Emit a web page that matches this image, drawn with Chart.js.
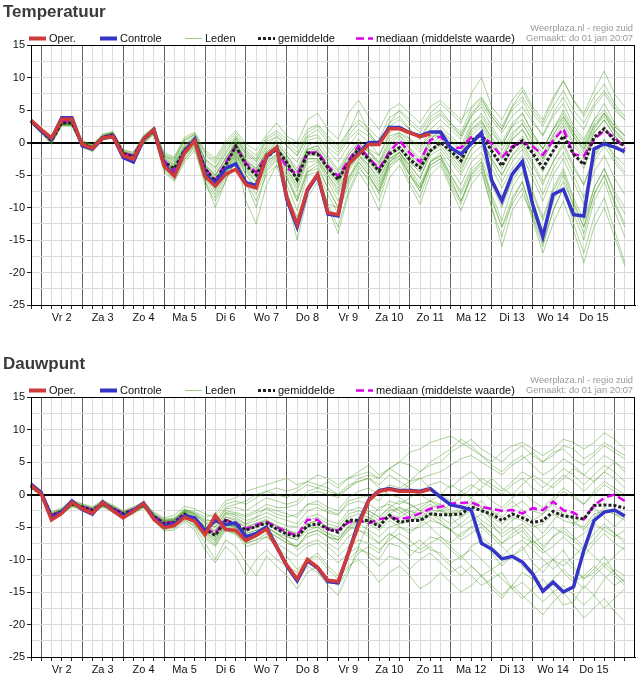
<!DOCTYPE html>
<html>
<head>
<meta charset="utf-8">
<script src="https://cdn.jsdelivr.net/npm/chart.js@4.4.1/dist/chart.umd.min.js"></script>
<style>
    html, body { margin: 0; padding: 0; overflow: hidden; background: #fff; }
    .panel { position: relative; width: 636px; height: 352px; }
</style>
</head>
<body>
<div class="panel"><canvas id="temperatuur"></canvas></div>
<div class="panel"><canvas id="dauwpunt"></canvas></div>
<script>
// Dag-labels onder de x-as (midden van elke dag, 6-uurs stappen vanaf 1 jan 18:00)
const dagLabels = ['Vr 2', 'Za 3', 'Zo 4', 'Ma 5', 'Di 6', 'Wo 7', 'Do 8', 'Vr 9', 'Za 10', 'Zo 11', 'Ma 12', 'Di 13', 'Wo 14', 'Do 15'];
const aantalStappen = 60;
const yTicks = [15, 10, 5, 0, -5, -10, -15, -20, -25];

// ---- Temperatuur ----
const tempOper = [3.4, 2.0, 0.7, 3.6, 3.6, -0.3, -0.9, 0.7, 0.9, -2.0, -2.6, 0.5, 2.0, -3.6, -5.2, -1.6, 0.3, -5.2, -6.7, -4.9, -4.1, -6.5, -7.0, -2.0, -0.8, -8.5, -12.6, -7.2, -4.9, -10.8, -11.1, -3.3, -1.8, -0.3, -0.3, 2.1, 2.1, 1.5, 0.9, 1.3];
const tempControle = [3.3, 1.8, 0.5, 3.8, 3.8, -0.5, -1.0, 0.7, 1.0, -2.3, -3.0, 0.5, 2.0, -3.4, -5.0, -1.4, 0.5, -4.8, -6.3, -4.0, -3.3, -6.2, -6.6, -2.2, -0.8, -8.8, -13.0, -7.4, -5.0, -11.0, -11.3, -3.3, -1.6, 0.0, 0.0, 2.3, 2.3, 1.5, 1.0, 1.6, 1.6, -0.8, -1.8, -0.2, 1.5, -5.8, -9.0, -4.9, -2.9, -9.5, -14.5, -8.0, -7.2, -11.1, -11.3, -1.0, -0.2, -0.7, -1.4, 1.0];
const tempGemiddelde = [3.3, 1.8, 0.3, 3.0, 3.0, -0.2, -0.8, 0.8, 1.2, -1.7, -2.2, 0.5, 1.8, -3.0, -4.0, -1.2, 0.3, -4.0, -6.0, -3.5, -0.6, -3.5, -5.0, -2.3, -1.0, -3.1, -5.7, -1.6, -1.8, -3.9, -5.7, -3.1, -1.0, -2.6, -4.4, -1.8, -0.8, -2.6, -3.9, -1.3, 0.0, -1.3, -2.8, 0.3, 1.3, -1.3, -3.6, -0.8, 0.3, -1.6, -3.9, -1.3, 1.0, -1.8, -3.4, 0.8, 2.1, 0.3, -0.5, 1.8];
const tempMediaan = [3.4, 1.9, 0.5, 3.3, 3.2, -0.2, -0.8, 0.8, 1.3, -1.6, -2.0, 0.6, 1.9, -2.8, -4.4, -1.2, 0.4, -4.0, -5.8, -3.2, -0.5, -3.2, -4.6, -2.0, -1.0, -3.9, -4.9, -1.6, -1.5, -3.6, -5.2, -2.8, -0.5, -2.4, -4.0, -1.5, 0.3, -1.6, -3.0, 0.4, 0.9, -0.8, -0.8, 0.8, 1.0, -0.2, -2.3, -0.6, 0.0, -0.6, -1.9, 0.3, 2.1, -1.8, -2.1, 0.5, 1.8, 0.8, -1.0, 2.3];
const tempLeden = [
    [3.6, 2.2, 0.8, 3.4, 3.3, 0.2, -0.4, 1.2, 1.6, -1.2, -1.6, 1.0, 2.3, -2.0, -2.8, 0.2, 1.2, -2.5, -3.8, -1.0, 0.6, -1.5, -2.8, 0.2, 0.8, -0.5, -2.0, 0.8, 1.2, -0.8, -2.0, 0.5, 2.0, 1.0, -0.5, 2.5, 3.5, 2.0, 0.5, 3.0, 4.2, 2.5, 1.0, 4.5, 6.0, 3.5, 1.5, 4.0, 5.5, 3.0, 1.2, 4.5, 7.0, 4.0, 2.0, 5.5, 7.5, 5.0, 3.5, 6.5],
    [3.0, 1.5, -0.2, 2.6, 2.6, -0.6, -1.3, 0.3, 0.8, -2.3, -2.9, -0.1, 1.3, -4.2, -5.8, -2.6, -0.8, -6.5, -9.0, -6.0, -2.5, -6.2, -10.0, -4.5, -2.8, -6.5, -10.5, -5.0, -4.5, -8.0, -11.0, -6.5, -3.5, -6.0, -9.0, -4.0, -2.5, -6.0, -8.5, -4.0, -3.0, -6.5, -9.5, -5.0, -3.0, -8.0, -12.0, -7.0, -4.5, -9.0, -13.5, -8.5, -5.0, -10.0, -14.0, -8.0, -5.0, -9.5, -13.0, -7.5],
    [3.4, 1.9, 0.5, 3.1, 3.2, -0.1, -0.6, 1.0, 1.4, -1.5, -2.0, 0.7, 2.0, -2.6, -3.4, -0.6, 0.8, -3.2, -5.0, -2.4, 0.2, -2.5, -4.0, -1.5, -0.2, -2.0, -4.0, -0.5, 0.2, -2.0, -4.2, -1.5, 0.5, -1.2, -3.2, 0.0, 1.2, -0.8, -2.5, 0.5, 1.8, 0.2, -1.5, 2.0, 3.2, 0.8, -1.2, 1.5, 2.8, 0.5, -1.8, 1.2, 3.5, 0.8, -1.0, 2.5, 4.0, 1.8, 0.5, 3.5],
    [3.1, 1.6, 0.0, 2.8, 2.7, -0.5, -1.1, 0.5, 0.9, -2.1, -2.7, 0.2, 1.6, -3.6, -4.8, -1.8, -0.2, -4.8, -7.2, -4.2, -1.5, -4.5, -6.2, -3.0, -1.8, -4.5, -7.5, -3.0, -2.8, -5.5, -8.0, -4.5, -2.0, -4.0, -6.5, -3.0, -2.0, -5.0, -7.5, -3.5, -2.5, -6.0, -9.0, -5.0, -3.5, -9.0, -13.0, -8.5, -6.0, -11.0, -15.5, -10.5, -7.0, -12.5, -17.0, -11.5, -8.5, -13.5, -18.5, -12.0],
    [3.5, 2.0, 0.6, 3.3, 3.4, 0.1, -0.5, 1.1, 1.5, -1.3, -1.8, 0.9, 2.2, -1.8, -2.4, 0.5, 1.4, -1.5, -2.8, -0.2, 1.4, -0.8, -2.0, 0.8, 1.8, 0.5, -0.8, 2.0, 2.8, 1.0, -0.5, 1.8, 3.5, 2.2, 0.5, 3.8, 4.8, 3.0, 1.5, 4.0, 5.0, 3.0, 1.5, 5.2, 6.8, 4.0, 2.0, 5.0, 6.5, 3.5, 1.0, 4.0, 6.0, 2.5, 0.5, 3.5, 5.0, 2.5, 1.0, 4.0],
    [3.2, 1.7, 0.2, 2.9, 2.9, -0.3, -1.0, 0.6, 1.0, -2.0, -2.5, 0.3, 1.7, -3.8, -5.2, -2.0, -0.5, -5.5, -8.0, -5.0, -2.0, -5.8, -8.0, -4.2, -2.5, -7.5, -12.5, -7.0, -5.0, -9.5, -13.0, -7.5, -4.0, -5.5, -7.5, -3.0, -1.5, -3.5, -5.5, -1.5, -0.5, -2.5, -4.5, -1.0, 0.5, -2.5, -5.0, -2.0, -0.5, -3.5, -6.5, -3.0, -0.5, -4.0, -6.5, -2.0, 0.5, -2.0, -3.5, -0.5],
    [3.3, 1.8, 0.4, 3.0, 3.1, -0.2, -0.8, 0.9, 1.3, -1.8, -2.3, 0.5, 1.9, -3.0, -4.2, -1.2, 0.4, -4.2, -6.5, -3.8, -0.8, -3.8, -5.5, -2.5, -1.0, -3.5, -6.0, -2.0, -2.0, -4.5, -6.5, -3.5, -1.5, -3.0, -5.0, -2.0, -1.0, -3.0, -4.5, -1.5, 0.5, -1.0, -2.5, 1.0, 2.5, -0.5, -2.5, 0.5, 2.0, -0.5, -2.5, 0.0, 2.5, -0.5, -2.5, 1.5, 3.5, 1.0, -0.5, 2.5],
    [3.5, 2.1, 0.7, 3.2, 3.3, 0.0, -0.6, 1.0, 1.4, -1.4, -1.9, 0.8, 2.1, -2.2, -3.0, -0.3, 1.0, -2.8, -4.5, -1.8, 0.5, -2.0, -3.5, -0.8, 0.4, -1.5, -3.0, 0.3, 0.8, -1.2, -3.0, -0.5, 1.5, 0.0, -2.0, 1.5, 2.5, 0.5, -1.0, 2.0, 3.5, 2.0, 0.5, 4.0, 6.5, 4.0, 2.0, 5.5, 8.0, 5.0, 3.0, 6.5, 9.5, 6.5, 4.5, 8.0, 11.0, 7.5, 5.5, 11.0],
    [3.0, 1.4, -0.3, 2.7, 2.5, -0.7, -1.4, 0.4, 0.7, -2.5, -3.2, -0.2, 1.2, -4.5, -6.0, -3.0, -1.2, -6.0, -8.5, -5.5, -2.8, -6.0, -9.0, -5.0, -3.5, -5.5, -9.0, -4.5, -4.0, -7.0, -10.0, -6.0, -3.0, -5.0, -8.0, -3.5, -2.0, -5.0, -7.5, -3.0, -1.5, -4.0, -6.5, -3.0, -1.5, -5.5, -8.5, -5.0, -3.0, -7.5, -11.5, -7.0, -4.0, -8.5, -12.0, -7.0, -4.0, -8.0, -11.0, -6.0],
    [3.4, 1.9, 0.4, 3.0, 3.0, -0.3, -0.9, 0.7, 1.1, -1.7, -2.1, 0.6, 1.8, -2.8, -3.6, -0.8, 0.6, -3.6, -5.5, -3.0, -0.2, -3.0, -4.5, -1.8, -0.5, -2.8, -5.0, -1.2, -1.0, -3.5, -5.5, -2.5, -0.5, -2.0, -4.0, -1.0, 0.5, -1.5, -3.5, 0.0, 1.5, -0.5, -2.0, 2.0, 3.5, 0.5, -2.0, 1.0, 3.0, 0.0, -2.5, 1.0, 4.0, 1.0, -1.5, 2.0, 4.5, 1.5, 0.0, 3.0],
    [3.2, 1.6, 0.1, 2.9, 2.8, -0.4, -1.1, 0.6, 1.0, -1.9, -2.5, 0.3, 1.6, -3.4, -4.5, -1.5, 0.0, -4.5, -7.0, -4.5, -1.5, -5.0, -7.0, -3.5, -2.0, -5.0, -8.5, -4.0, -3.0, -6.0, -9.0, -5.5, -2.5, -4.5, -7.0, -3.0, -1.5, -4.0, -6.5, -3.0, -2.0, -5.0, -8.0, -4.5, -3.0, -8.5, -13.0, -9.5, -7.0, -12.0, -17.0, -12.5, -9.0, -13.5, -18.5, -13.0, -10.0, -14.5, -19.0, -13.5],
    [3.6, 2.1, 0.6, 3.3, 3.4, 0.1, -0.5, 1.1, 1.5, -1.4, -1.9, 0.9, 2.2, -2.0, -2.6, 0.4, 1.2, -1.8, -3.2, -0.6, 1.0, -1.2, -2.5, 0.5, 1.4, 0.0, -1.5, 1.5, 2.5, 0.5, -1.0, 1.5, 5.0, 1.5, -0.5, 3.0, 5.0, 3.5, 2.0, 4.5, 6.0, 4.5, 3.0, 7.5, 10.0, 5.5, 3.5, 6.5, 8.5, 5.5, 3.5, 7.0, 9.5, 6.5, 4.0, 7.0, 9.0, 6.0, 4.0, 7.0],
    [3.3, 1.7, 0.3, 3.0, 2.9, -0.2, -0.8, 0.8, 1.2, -1.6, -2.3, 0.4, 1.8, -3.2, -4.4, -1.4, 0.2, -3.8, -5.8, -3.2, -0.5, -3.4, -5.0, -2.2, -0.8, -3.0, -5.5, -1.5, -1.5, -4.0, -6.0, -3.0, -0.8, -2.5, -4.5, -1.5, -0.5, -2.5, -4.0, -1.0, 0.0, -2.0, -4.0, -1.0, 0.5, -2.5, -5.0, -2.0, 0.0, -3.0, -6.0, -3.0, 0.0, -3.5, -6.5, -2.5, 0.5, -2.5, -4.5, -1.0],
    [3.1, 1.5, 0.1, 2.8, 2.8, -0.4, -1.0, 0.6, 1.0, -2.0, -2.6, 0.2, 1.5, -3.6, -4.6, -1.6, 0.0, -4.6, -6.8, -4.0, -1.2, -4.2, -6.0, -3.2, -1.6, -4.0, -7.0, -2.5, -2.5, -5.0, -7.5, -4.0, -1.8, -3.5, -6.0, -2.5, -1.5, -4.5, -7.0, -3.0, -2.0, -5.5, -9.0, -5.5, -4.0, -10.0, -16.0, -10.5, -8.0, -11.0, -14.0, -9.0, -6.0, -9.5, -13.0, -7.0, -4.0, -7.5, -10.0, -5.0],
    [3.7, 2.3, 0.9, 3.5, 3.5, 0.3, -0.3, 1.3, 1.7, -1.1, -1.5, 1.1, 2.4, -1.6, -2.2, 0.8, 1.6, -1.2, -2.4, 0.2, 1.8, -0.2, -1.2, 1.2, 3.0, 1.0, 0.0, 3.5, 4.5, 2.0, 0.5, 4.5, 6.5, 4.0, 2.0, 5.0, 6.0, 4.5, 3.0, 5.5, 6.5, 5.0, 3.5, 5.5, 7.0, 4.5, 2.5, 5.5, 7.0, 4.5, 2.5, 5.5, 8.0, 5.0, 3.0, 6.0, 8.0, 5.5, 3.5, 6.0],
    [3.4, 2.0, 0.6, 3.5, 3.5, -0.3, -0.9, 0.7, 0.9, -2.0, -2.6, 0.5, 2.0, -3.5, -5.0, -1.5, 0.3, -5.0, -6.5, -4.5, -3.5, -6.0, -6.5, -2.0, -0.8, -8.0, -11.5, -7.0, -4.5, -9.5, -10.0, -3.5, -1.5, -1.0, -2.0, 1.0, 1.5, 0.5, -0.5, 1.0, 1.0, -1.5, -3.0, 0.0, 1.0, -3.0, -6.0, -3.0, -1.0, -4.5, -8.0, -4.0, -1.5, -5.0, -8.5, -3.0, -0.5, -3.0, -5.0, -1.5],
    [3.2, 1.7, 0.2, 2.9, 2.9, -0.2, -0.9, 0.7, 1.1, -1.8, -2.4, 0.4, 1.7, -3.2, -4.0, -1.0, 0.5, -3.5, -5.2, -2.6, 0.0, -2.8, -4.2, -1.2, 0.0, -2.0, -4.5, -1.0, -0.5, -3.0, -5.0, -2.0, 0.0, -1.5, -3.5, -0.5, 1.0, -1.0, -3.0, 0.5, 2.0, 0.5, -1.0, 2.5, 4.5, 2.0, -0.5, 2.5, 4.5, 1.5, -1.0, 2.0, 5.0, 2.0, 0.0, 3.5, 6.0, 3.0, 1.0, 4.5],
    [3.0, 1.5, 0.0, 2.7, 2.7, -0.6, -1.2, 0.4, 0.8, -2.2, -2.8, 0.1, 1.4, -4.0, -5.5, -2.4, -0.6, -5.8, -10.0, -6.0, -2.2, -9.0, -12.5, -6.5, -3.5, -8.5, -15.0, -8.5, -6.0, -10.0, -14.0, -8.0, -4.5, -7.0, -10.5, -5.5, -3.5, -6.5, -9.5, -5.0, -3.5, -7.0, -10.5, -6.5, -4.5, -10.0, -14.5, -9.0, -6.0, -11.5, -16.0, -10.5, -7.0, -11.0, -15.0, -9.0, -6.0, -10.5, -14.5, -9.0],
    [3.5, 2.0, 0.5, 3.2, 3.1, 0.0, -0.7, 0.9, 1.3, -1.5, -2.0, 0.7, 2.0, -2.5, -3.5, -0.8, 0.6, -3.5, -5.0, -2.5, 0.0, -2.8, -4.0, -1.5, -0.5, -2.5, -4.5, -1.0, -0.5, -2.5, -4.5, -2.0, 0.0, -1.5, -3.0, 0.5, 1.5, 0.0, -1.5, 1.0, 2.5, 1.0, -0.5, 3.0, 4.0, 1.5, -0.5, 2.5, 3.5, 1.0, -1.0, 2.0, 4.0, 1.5, -0.5, 3.0, 4.5, 2.5, 1.0, 3.5],
    [3.2, 1.7, 0.2, 2.9, 2.9, -0.4, -1.0, 0.6, 1.0, -1.9, -2.4, 0.3, 1.6, -3.3, -4.6, -1.6, -0.1, -4.5, -6.8, -4.0, -1.0, -4.0, -6.0, -2.8, -1.2, -4.0, -6.5, -2.5, -2.5, -5.0, -7.0, -4.0, -2.0, -3.5, -5.5, -2.5, -1.5, -3.5, -5.5, -2.0, -1.0, -3.0, -5.0, -2.0, -0.5, -4.0, -7.0, -4.0, -2.0, -5.5, -9.0, -5.0, -2.5, -6.0, -9.5, -4.5, -2.0, -5.5, -8.0, -3.5],
    [3.3, 1.8, 0.3, 3.1, 3.0, -0.1, -0.7, 0.8, 1.2, -1.7, -2.2, 0.5, 1.8, -2.9, -3.9, -1.1, 0.4, -3.8, -5.8, -3.2, -0.4, -3.2, -4.8, -2.0, -0.6, -3.0, -5.5, -1.5, -1.2, -3.8, -5.8, -2.8, -0.5, -2.2, -4.2, -1.2, 0.0, -2.0, -3.8, -0.5, 1.0, -0.5, -2.0, 1.5, 3.0, 0.0, -2.5, 0.5, 2.0, -1.0, -3.0, 0.5, 3.0, 0.0, -2.0, 1.5, 3.5, 1.0, -0.5, 2.5],
    [3.4, 1.9, 0.5, 3.2, 3.2, -0.1, -0.6, 0.9, 1.3, -1.5, -2.0, 0.7, 2.0, -2.4, -3.2, -0.5, 0.9, -2.6, -4.0, -1.5, 0.8, -1.8, -3.0, -0.5, 1.0, -0.5, -2.0, 1.0, 2.0, 0.0, -1.5, 1.0, 3.0, 1.5, -0.5, 3.0, 4.0, 2.0, 0.5, 3.5, 4.5, 3.0, 1.0, 4.0, 5.5, 2.5, 0.0, 3.0, 4.5, 1.5, -1.0, 2.0, 4.5, 1.5, -1.0, 2.5, 4.5, 2.0, 0.0, 3.0],
    [3.1, 1.6, 0.1, 2.8, 2.8, -0.4, -1.1, 0.5, 0.9, -2.1, -2.7, 0.1, 1.5, -3.8, -5.0, -2.0, -0.4, -5.2, -7.5, -4.8, -1.8, -5.0, -7.0, -3.8, -2.2, -5.5, -9.0, -4.5, -3.5, -7.0, -10.0, -5.5, -3.0, -5.0, -7.5, -3.5, -2.5, -5.0, -7.0, -3.5, -2.5, -5.0, -7.5, -4.0, -2.5, -6.5, -10.0, -6.0, -3.5, -8.0, -12.0, -7.5, -4.5, -9.0, -13.0, -8.0, -5.0, -9.0, -12.5, -7.0],
    [3.3, 1.8, 0.4, 3.0, 3.0, -0.2, -0.9, 0.7, 1.1, -1.8, -2.3, 0.4, 1.8, -3.0, -4.0, -1.2, 0.3, -4.0, -6.0, -3.5, -0.6, -3.5, -5.2, -2.2, -0.8, -3.2, -5.8, -1.8, -1.8, -4.2, -6.2, -3.2, -1.0, -2.8, -4.8, -2.0, -1.0, -3.0, -4.5, -1.5, 0.0, -1.5, -3.5, 0.0, 1.5, -1.5, -4.0, -1.0, 1.0, -2.0, -4.5, -1.5, 1.5, -1.5, -4.0, 0.5, 2.5, 0.0, -2.0, 1.0]
];

// ---- Dauwpunt ----
const dauwOper = [1.4, 0.1, -3.9, -2.9, -1.2, -2.2, -2.9, -1.2, -2.5, -3.6, -2.6, -1.4, -3.8, -5.1, -4.8, -3.5, -4.1, -6.2, -3.2, -5.4, -5.5, -7.1, -6.3, -5.3, -8.1, -10.9, -13.0, -10.0, -11.2, -13.2, -13.4, -9.1, -4.7, -0.9, 0.5, 0.8, 0.5, 0.5, 0.4, 0.8];
const dauwControle = [1.6, 0.3, -3.6, -2.7, -1.0, -2.3, -3.0, -1.1, -2.4, -3.4, -2.5, -1.3, -3.6, -4.9, -4.5, -3.3, -3.6, -5.6, -4.0, -4.6, -4.4, -6.5, -6.0, -5.0, -8.0, -11.0, -13.3, -10.2, -11.3, -13.4, -13.6, -9.0, -4.3, -0.8, 0.6, 0.9, 0.6, 0.6, 0.5, 0.9, -0.4, -1.6, -1.9, -2.4, -7.5, -8.4, -9.9, -9.5, -10.4, -12.2, -14.9, -13.5, -15.0, -14.2, -8.6, -4.0, -2.7, -2.4, -3.3, -2.7];
const dauwGemiddelde = [1.2, 0.2, -3.3, -2.6, -1.5, -1.9, -2.4, -1.5, -2.2, -3.0, -2.4, -1.6, -3.4, -4.5, -4.3, -3.0, -3.9, -5.4, -6.3, -4.0, -4.6, -5.5, -4.9, -4.4, -5.3, -6.1, -6.5, -4.8, -4.5, -5.3, -5.8, -3.9, -4.0, -4.0, -4.9, -3.2, -4.3, -4.0, -4.0, -3.0, -3.1, -3.1, -3.0, -1.9, -2.5, -3.0, -4.0, -3.0, -3.6, -4.3, -4.0, -2.6, -3.3, -3.5, -3.8, -1.7, -1.6, -1.7, -2.1, -0.4];
const dauwMediaan = [1.3, 0.3, -3.2, -2.5, -1.4, -1.9, -2.3, -1.4, -2.1, -2.9, -2.3, -1.5, -3.3, -4.4, -4.2, -3.0, -3.8, -5.2, -6.0, -3.9, -4.4, -5.3, -4.7, -4.2, -5.0, -5.8, -6.3, -3.9, -3.9, -5.4, -5.5, -4.3, -4.0, -4.4, -3.8, -3.5, -3.8, -3.5, -2.9, -2.2, -1.9, -1.4, -1.3, -1.2, -1.9, -2.2, -2.5, -2.4, -2.9, -2.1, -2.4, -1.1, -2.4, -2.8, -3.8, -1.7, -0.5, 0.0, -1.0, 0.2];
const dauwLeden = [
    [1.5, 0.5, -2.8, -2.2, -1.0, -1.5, -2.0, -1.0, -1.8, -2.6, -2.0, -1.2, -2.8, -3.8, -3.6, -2.2, -3.0, -4.5, -5.0, -2.8, -3.2, -4.0, -3.5, -2.8, -3.5, -4.0, -4.5, -2.5, -2.0, -2.8, -3.2, -1.0, -0.5, -0.2, -1.0, 1.0, 0.5, 1.5, 2.5, 3.0, 3.5, 4.5, 5.5, 6.0, 5.0, 4.0, 3.0, 4.5, 5.5, 6.5, 5.0, 6.0, 7.5, 7.0, 5.5, 6.5, 8.0, 7.0, 6.0, 7.5],
    [1.0, 0.0, -3.8, -3.0, -1.8, -2.4, -2.9, -1.9, -2.6, -3.5, -2.8, -2.0, -4.0, -5.4, -5.2, -4.0, -4.8, -6.8, -8.0, -5.5, -6.2, -7.5, -7.0, -6.5, -7.5, -8.5, -9.5, -8.0, -7.5, -9.0, -10.5, -9.0, -8.0, -9.5, -11.0, -9.5, -10.0, -11.5, -10.0, -9.0, -10.5, -12.0, -11.0, -12.5, -14.0, -13.0, -12.0, -14.5, -16.0, -14.5, -13.0, -15.0, -17.0, -16.5, -14.0, -15.5, -17.5, -16.0, -14.5, -16.0],
    [1.2, 0.2, -3.2, -2.5, -1.4, -1.9, -2.4, -1.4, -2.1, -3.0, -2.4, -1.6, -3.3, -4.3, -4.0, -2.8, -3.5, -5.0, -5.8, -3.5, -4.0, -5.0, -4.5, -4.0, -5.0, -5.5, -6.0, -4.5, -4.0, -5.0, -5.5, -3.5, -3.0, -3.5, -4.5, -3.0, -3.5, -2.5, -3.0, -2.0, -1.5, -2.5, -3.5, -2.0, -1.0, -2.5, -3.5, -2.0, -1.0, -2.5, -3.0, -1.0, 0.5, -0.5, -1.5, 0.0, 1.5, 0.5, -0.5, 1.0],
    [1.1, 0.1, -3.5, -2.8, -1.6, -2.1, -2.6, -1.6, -2.4, -3.2, -2.6, -1.8, -3.6, -4.8, -4.8, -3.4, -4.4, -6.2, -7.5, -5.0, -6.0, -8.0, -7.5, -6.5, -8.0, -9.5, -11.5, -10.0, -9.0, -11.0, -12.5, -10.0, -8.5, -9.0, -10.0, -7.5, -8.0, -9.5, -8.0, -6.5, -7.0, -8.5, -10.0, -8.0, -7.0, -9.0, -11.0, -9.5, -8.0, -10.5, -12.0, -10.0, -8.5, -11.0, -13.0, -11.5, -9.5, -12.0, -13.5, -11.0],
    [1.4, 0.4, -3.0, -2.4, -1.2, -1.7, -2.2, -1.2, -1.9, -2.8, -2.2, -1.4, -3.1, -4.0, -3.8, -2.5, -3.0, -4.2, -4.5, -2.2, -2.0, -2.5, -1.5, -0.5, -1.0, -1.5, -1.0, 0.5, 1.0, 0.5, 0.0, 1.5, 2.0, 2.5, 1.5, 3.0, 2.0, 1.0, 0.0, -1.0, -2.0, -3.5, -2.5, -1.0, -2.0, -4.0, -5.5, -4.0, -3.0, -4.5, -6.0, -4.0, -2.5, -4.0, -5.5, -3.5, -2.0, -3.0, -4.0, -2.0],
    [1.0, -0.1, -3.6, -2.9, -1.7, -2.2, -2.7, -1.7, -2.5, -3.3, -2.7, -1.9, -3.7, -5.0, -4.8, -3.6, -4.6, -6.5, -7.8, -5.2, -5.8, -7.0, -6.5, -5.5, -6.5, -7.5, -8.0, -6.5, -6.0, -7.5, -8.5, -6.5, -5.5, -6.0, -7.5, -6.0, -7.0, -8.5, -9.0, -8.0, -9.5, -11.0, -12.5, -11.0, -12.5, -14.5, -16.0, -14.0, -15.5, -17.0, -18.5, -16.5, -15.0, -17.0, -19.0, -17.5, -16.0, -18.0, -19.5, -17.5],
    [1.3, 0.3, -3.1, -2.4, -1.3, -1.8, -2.3, -1.3, -2.0, -2.9, -2.3, -1.5, -3.2, -4.2, -4.0, -2.6, -3.4, -4.8, -5.5, -3.0, -3.5, -4.5, -3.5, -2.0, -2.5, -3.0, -3.5, -1.5, -1.0, -2.0, -2.5, -0.5, 0.5, 1.0, 0.0, 1.5, 1.0, 2.0, 3.5, 4.5, 5.0, 6.5, 7.5, 8.5, 7.0, 6.0, 5.0, 6.5, 7.5, 6.0, 5.0, 6.5, 7.0, 5.5, 4.5, 6.0, 7.5, 6.5, 5.5, 7.0],
    [1.1, 0.0, -3.7, -3.0, -1.7, -2.2, -2.8, -1.8, -2.5, -3.4, -2.7, -1.9, -3.8, -5.2, -5.0, -3.8, -5.0, -7.5, -10.0, -7.0, -8.0, -10.5, -12.5, -9.5, -11.0, -12.5, -14.5, -12.0, -11.0, -13.0, -14.0, -11.5, -9.0, -8.0, -9.0, -6.5, -5.0, -6.0, -4.5, -3.0, -4.0, -5.5, -4.5, -3.0, -4.5, -6.0, -7.5, -6.0, -5.0, -7.0, -8.5, -6.5, -5.0, -6.5, -8.0, -6.0, -4.5, -6.0, -7.0, -5.5],
    [1.2, 0.1, -3.3, -2.6, -1.5, -2.0, -2.5, -1.5, -2.2, -3.1, -2.5, -1.7, -3.5, -4.6, -4.4, -3.2, -4.0, -5.5, -6.0, -4.5, -5.0, -5.5, -5.0, -4.5, -5.5, -6.5, -7.0, -5.0, -4.5, -6.0, -7.0, -5.5, -4.5, -5.5, -6.5, -5.0, -4.5, -3.5, -4.0, -3.0, -2.5, -1.5, -0.5, 1.0, 2.5, 1.5, 0.5, 2.0, 3.5, 2.5, 1.0, 2.5, 4.0, 3.0, 1.5, 3.0, 4.5, 3.5, 2.0, 4.0],
    [1.5, 0.6, -2.7, -2.0, -0.9, -1.4, -1.9, -0.9, -1.6, -2.5, -1.9, -1.1, -2.7, -3.6, -3.2, -1.8, -2.2, -3.0, -3.5, -1.5, -1.0, -1.5, -0.5, 0.5, 0.0, -0.5, 0.5, 1.5, 1.0, 2.0, 1.0, 2.5, 3.0, 3.5, 2.5, 4.0, 3.0, 2.0, 2.5, 1.0, 0.0, 1.5, 0.5, -0.5, 1.0, 2.5, 1.0, 0.0, 1.5, 3.0, 2.0, 1.0, 2.5, 4.0, 3.0, 2.0, 3.5, 5.0, 4.0, 3.0],
    [1.3, 0.2, -3.4, -2.7, -1.5, -2.0, -2.5, -1.4, -2.3, -3.1, -2.5, -1.6, -3.4, -4.5, -4.3, -3.0, -3.8, -5.5, -6.5, -4.5, -4.8, -6.0, -5.5, -5.0, -6.0, -7.0, -8.0, -6.0, -5.5, -6.5, -7.5, -5.5, -4.0, -3.5, -4.5, -3.0, -2.0, -2.5, -3.5, -5.0, -6.5, -8.0, -9.5, -11.0, -12.5, -11.5, -13.0, -14.5, -13.5, -15.0, -16.5, -15.0, -14.0, -15.5, -17.0, -15.5, -13.0, -11.5, -12.5, -11.0],
    [1.6, 0.5, -2.9, -2.3, -1.1, -1.6, -2.1, -1.1, -1.8, -2.7, -2.1, -1.3, -3.0, -3.9, -3.7, -2.4, -2.8, -3.8, -4.2, -2.5, -2.8, -3.2, -2.5, -1.5, -2.0, -2.0, -1.5, 0.0, 0.5, 0.0, -0.5, 1.0, 2.5, 3.0, 2.5, 4.0, 5.0, 4.5, 3.5, 5.0, 6.0, 7.0, 8.5, 7.5, 6.0, 5.0, 6.5, 7.5, 8.0, 7.0, 6.0, 7.0, 8.5, 8.0, 7.0, 8.0, 9.5, 8.5, 7.0, 8.5],
    [1.2, 0.3, -3.2, -2.6, -1.5, -2.0, -2.4, -1.5, -2.2, -3.0, -2.4, -1.6, -3.4, -4.4, -4.4, -3.0, -4.2, -5.8, -7.0, -4.8, -5.0, -5.8, -4.8, -4.0, -4.8, -5.5, -6.5, -5.0, -5.0, -6.5, -7.0, -5.0, -3.5, -2.5, -3.5, -2.0, -1.0, -1.5, -2.5, -1.5, -2.5, -3.5, -5.0, -4.0, -3.0, -4.5, -6.5, -5.5, -4.5, -6.0, -8.0, -6.5, -5.5, -7.0, -8.5, -7.0, -5.0, -6.0, -7.5, -6.0],
    [0.9, -0.2, -3.8, -3.1, -1.9, -2.4, -2.9, -1.9, -2.7, -3.6, -3.0, -2.0, -4.1, -5.6, -5.5, -4.2, -5.5, -8.5, -10.5, -8.0, -9.5, -12.5, -10.0, -8.5, -10.0, -11.0, -12.0, -10.0, -9.5, -11.5, -13.0, -11.0, -10.0, -11.5, -13.5, -12.0, -11.0, -12.5, -14.5, -13.5, -12.0, -13.5, -15.0, -14.0, -12.5, -14.0, -15.5, -14.0, -12.0, -13.0, -14.5, -13.0, -11.5, -13.0, -14.5, -12.5, -11.0, -12.5, -14.0, -12.0],
    [1.4, 0.4, -3.0, -2.3, -1.2, -1.7, -2.2, -1.2, -1.9, -2.8, -2.2, -1.4, -3.1, -4.0, -3.9, -2.5, -3.0, -4.0, -4.0, -2.0, -1.5, -1.0, 0.0, 0.5, 1.0, 0.5, 1.0, 2.0, 1.5, 1.0, 0.0, 1.0, 2.0, 2.5, 1.0, 0.0, -0.5, -1.5, -2.5, -3.5, -4.5, -5.5, -7.0, -6.0, -5.0, -6.5, -8.0, -9.5, -8.5, -7.0, -8.5, -10.0, -11.0, -9.5, -8.0, -9.5, -11.0, -9.5, -8.0, -9.0],
    [1.3, 0.4, -3.0, -2.4, -1.3, -1.8, -2.3, -1.3, -2.0, -2.8, -2.2, -1.4, -3.1, -4.1, -3.9, -2.4, -2.6, -3.5, -3.0, -1.0, -0.5, 0.5, 1.0, 1.5, 2.0, 2.5, 1.5, 2.0, 3.0, 2.5, 1.5, 2.5, 3.5, 4.5, 3.0, 4.0, 5.0, 6.5, 7.0, 8.0, 8.5, 9.0, 8.0, 7.0, 6.0, 4.5, 3.5, 5.0, 6.0, 4.5, 3.0, 4.0, 5.5, 4.5, 3.0, 4.5, 6.0, 5.0, 3.5, 5.0],
    [1.4, 0.1, -3.7, -2.8, -1.3, -2.1, -2.8, -1.3, -2.4, -3.4, -2.5, -1.5, -3.7, -5.0, -4.7, -3.6, -4.2, -6.0, -4.0, -5.5, -6.0, -7.5, -7.0, -6.0, -8.5, -11.5, -13.5, -11.0, -12.0, -14.0, -15.5, -12.0, -8.0, -4.0, -2.0, -1.5, -2.5, -3.5, -2.0, -1.0, -1.5, -3.0, -2.0, -0.5, -2.0, -3.5, -2.5, -1.0, -2.5, -4.0, -3.0, -1.5, -3.0, -4.5, -3.5, -2.0, -3.5, -5.0, -3.5, -2.0],
    [1.1, 0.1, -3.4, -2.7, -1.6, -2.1, -2.5, -1.6, -2.3, -3.2, -2.5, -1.7, -3.5, -4.7, -4.5, -3.2, -4.2, -5.8, -6.8, -4.5, -5.2, -6.5, -6.0, -5.0, -6.0, -7.0, -8.5, -7.5, -7.0, -8.0, -9.5, -8.0, -7.0, -7.5, -8.5, -7.0, -6.0, -7.0, -8.5, -7.5, -6.5, -7.5, -6.0, -5.0, -6.5, -8.0, -9.5, -8.0, -7.0, -8.5, -10.0, -11.5, -10.0, -11.5, -13.0, -12.0, -10.5, -12.0, -13.5, -12.5],
    [1.2, 0.2, -3.3, -2.6, -1.5, -1.9, -2.4, -1.5, -2.2, -3.0, -2.4, -1.6, -3.4, -4.5, -4.3, -3.0, -3.9, -5.4, -6.3, -4.0, -4.6, -5.5, -4.9, -4.4, -5.3, -6.0, -6.5, -4.5, -4.0, -5.0, -5.5, -4.0, -4.5, -4.0, -5.0, -3.5, -4.5, -4.0, -3.5, -2.5, -2.5, -3.0, -2.5, -1.5, -2.5, -3.5, -4.5, -3.5, -4.0, -5.0, -4.5, -3.0, -4.0, -4.5, -5.0, -3.0, -2.5, -3.0, -3.5, -2.0],
    [1.3, 0.3, -3.1, -2.5, -1.4, -1.9, -2.3, -1.4, -2.1, -2.9, -2.3, -1.5, -3.2, -4.3, -4.1, -2.7, -3.6, -5.0, -5.6, -3.4, -3.8, -4.6, -4.0, -3.4, -4.2, -4.8, -5.0, -3.5, -3.0, -4.0, -4.5, -2.5, -2.0, -2.5, -3.5, -2.0, -3.0, -2.0, -1.5, -1.0, 0.0, -1.0, 0.5, 1.5, 0.5, -1.0, -2.0, -0.5, 0.5, -1.0, -2.0, -0.5, 1.0, 0.0, -1.5, 0.5, 2.0, 1.0, 0.0, 1.5],
    [1.1, 0.1, -3.5, -2.7, -1.6, -2.0, -2.5, -1.6, -2.3, -3.1, -2.5, -1.7, -3.6, -4.7, -4.6, -3.3, -4.3, -6.0, -7.2, -4.8, -5.6, -6.8, -6.2, -5.5, -6.5, -7.5, -8.0, -6.0, -5.5, -6.5, -7.0, -5.0, -4.0, -4.5, -5.5, -4.0, -5.0, -5.5, -5.0, -4.0, -4.5, -5.5, -6.5, -5.0, -4.5, -6.0, -7.5, -6.5, -5.5, -7.5, -9.0, -8.0, -6.5, -8.0, -9.5, -7.5, -6.0, -7.5, -8.5, -7.0],
    [1.4, 0.4, -3.0, -2.4, -1.3, -1.8, -2.2, -1.3, -2.0, -2.8, -2.2, -1.4, -3.1, -4.1, -3.9, -2.6, -3.2, -4.4, -5.0, -2.8, -3.0, -3.5, -2.8, -2.2, -3.0, -3.5, -3.0, -1.5, -1.5, -2.5, -3.0, -1.5, -1.0, -1.5, -2.5, -1.0, -1.5, -0.5, 0.5, 1.5, 2.0, 1.0, 2.5, 3.5, 2.0, 1.0, 0.0, 1.5, 2.5, 1.0, 0.0, 1.5, 3.0, 2.0, 0.5, 2.0, 3.5, 2.5, 1.0, 3.0],
    [1.2, 0.1, -3.4, -2.7, -1.5, -2.0, -2.5, -1.5, -2.3, -3.1, -2.5, -1.7, -3.5, -4.6, -4.5, -3.2, -4.0, -5.6, -6.5, -4.4, -5.0, -6.0, -5.5, -5.0, -6.0, -6.5, -7.0, -5.5, -5.0, -6.0, -6.5, -5.0, -5.5, -6.5, -7.5, -6.0, -7.0, -8.0, -7.0, -8.5, -9.0, -10.5, -9.5, -8.5, -10.0, -11.5, -10.5, -9.5, -11.0, -12.5, -11.0, -10.0, -12.0, -13.5, -12.5, -11.0, -12.5, -14.0, -13.0, -11.5],
    [1.3, 0.2, -3.2, -2.6, -1.4, -1.9, -2.4, -1.5, -2.1, -3.0, -2.4, -1.6, -3.3, -4.4, -4.2, -2.9, -3.8, -5.2, -6.0, -3.8, -4.2, -5.0, -4.4, -3.8, -4.8, -5.5, -6.0, -4.0, -3.5, -4.5, -5.0, -3.0, -2.5, -3.0, -4.0, -2.5, -2.0, -3.0, -4.0, -3.0, -3.5, -4.5, -3.5, -2.5, -4.0, -5.0, -6.0, -5.0, -6.5, -7.5, -6.5, -5.0, -6.0, -7.0, -6.0, -4.5, -5.5, -6.5, -5.5, -4.0]
];

// Kleuren en lijnstijlen
const kleurOper = '#d03a3a';
const kleurControle = '#3434c8';
const kleurLeden = 'rgba(60, 150, 20, 0.42)';
const kleurGemiddelde = '#222222';
const kleurMediaan = '#dd00f0';
const lettertype = '"Liberation Sans", Arial, sans-serif';

// Slot-labels: dag-label in het midden van elke dag, verder leeg
const slotLabels = [];
for (let i = 0; i < aantalStappen; i++) {
    slotLabels.push((i - 3) % 4 === 0 ? dagLabels[(i - 3) / 4] : '');
}

// Plugin voor titel, legenda, bronvermelding en kader
const kopPlugin = {
    id: 'kop',
    afterDraw(chart, args, opts) {
        const ctx = chart.ctx;
        const area = chart.chartArea;
        ctx.save();

        // kader rond het plotgebied
        ctx.strokeStyle = '#000';
        ctx.lineWidth = 1;
        ctx.strokeRect(Math.round(area.left) + 0.5, Math.round(area.top) + 0.5,
            Math.round(area.right - area.left) - 1, Math.round(area.bottom - area.top));

        // titel
        ctx.fillStyle = '#3a3a3a';
        ctx.font = 'bold 17px ' + lettertype;
        ctx.textAlign = 'left';
        ctx.textBaseline = 'alphabetic';
        ctx.fillText(opts.titel, 3, 17);

        // bron rechtsboven
        ctx.fillStyle = '#999';
        ctx.font = '9.3px ' + lettertype;
        ctx.textAlign = 'right';
        ctx.fillText('Weerplaza.nl - regio zuid', 633, 31);
        ctx.fillText('Gemaakt: do 01 jan 20:07', 633, 41);

        // legenda
        const items = [
            { x: 29, tekst: 'Oper.', kleur: kleurOper, breedte: 4, dash: [] },
            { x: 100, tekst: 'Controle', kleur: kleurControle, breedte: 4, dash: [] },
            { x: 185, tekst: 'Leden', kleur: 'rgba(60, 150, 20, 0.5)', breedte: 1, dash: [] },
            { x: 258, tekst: 'gemiddelde', kleur: kleurGemiddelde, breedte: 3, dash: [3, 2] },
            { x: 356, tekst: 'mediaan (middelste waarde)', kleur: kleurMediaan, breedte: 2.5, dash: [8, 4] }
        ];
        ctx.font = '11px ' + lettertype;
        ctx.textAlign = 'left';
        ctx.textBaseline = 'middle';
        items.forEach(item => {
            ctx.beginPath();
            ctx.setLineDash(item.dash);
            ctx.strokeStyle = item.kleur;
            ctx.lineWidth = item.breedte;
            ctx.moveTo(item.x, 38.5);
            ctx.lineTo(item.x + 17, 38.5);
            ctx.stroke();
            ctx.setLineDash([]);
            ctx.fillStyle = '#111';
            ctx.fillText(item.tekst, item.x + 20, 38.5);
        });
        ctx.restore();
    }
};

function maakGrafiek(canvasId, titel, oper, controle, gemiddelde, mediaan, leden) {
    const datasets = [
        { label: 'Oper.', data: oper, borderColor: kleurOper, borderWidth: 3.5 },
        { label: 'Controle', data: controle, borderColor: kleurControle, borderWidth: 3.5 },
        { label: 'gemiddelde', data: gemiddelde, borderColor: kleurGemiddelde, borderWidth: 3, borderDash: [3, 2] },
        { label: 'mediaan', data: mediaan, borderColor: kleurMediaan, borderWidth: 2.5, borderDash: [8, 4] }
    ];
    leden.forEach((lid, n) => {
        datasets.push({ label: 'Lid ' + (n + 1), data: lid, borderColor: kleurLeden, borderWidth: 1 });
    });
    datasets.forEach(ds => {
        ds.pointRadius = 0;
        ds.tension = 0;
        ds.fill = false;
    });

    return new Chart(document.getElementById(canvasId), {
        type: 'line',
        data: { labels: slotLabels, datasets: datasets },
        options: {
            responsive: true,
            maintainAspectRatio: false,
            animation: false,
            layout: { padding: { top: 45, left: 0, right: 1, bottom: 0 } },
            plugins: {
                legend: { display: false },
                tooltip: { enabled: false },
                kop: { titel: titel }
            },
            scales: {
                x: {
                    type: 'category',
                    offset: false,
                    afterFit: s => { s.height = 47; },
                    border: { display: true, color: '#000' },
                    grid: {
                        color: c => ((c.index - 1) % 4 === 0 ? '#666' : '#dcdcdc'),
                        tickColor: '#222',
                        tickLength: 4
                    },
                    ticks: {
                        autoSkip: false,
                        maxRotation: 0,
                        padding: 2,
                        color: '#111',
                        font: { size: 11, family: lettertype }
                    }
                },
                y: {
                    min: -25,
                    max: 15,
                    afterFit: s => { s.width = 31; },
                    border: { display: true, color: '#000' },
                    grid: {
                        color: c => (c.tick.value === 0 ? '#000' : '#dcdcdc'),
                        lineWidth: c => (c.tick.value === 0 ? 2 : 1),
                        tickColor: c => (yTicks.includes(c.tick.value) ? '#222' : 'rgba(0,0,0,0)'),
                        tickLength: 4
                    },
                    ticks: {
                        stepSize: 2.5,
                        autoSkip: false,
                        padding: 2,
                        color: '#111',
                        font: { size: 11, family: lettertype },
                        callback: v => (yTicks.includes(v) ? v : '')
                    }
                }
            }
        },
        plugins: [kopPlugin]
    });
}

maakGrafiek('temperatuur', 'Temperatuur', tempOper, tempControle, tempGemiddelde, tempMediaan, tempLeden);
maakGrafiek('dauwpunt', 'Dauwpunt', dauwOper, dauwControle, dauwGemiddelde, dauwMediaan, dauwLeden);
</script>
</body>
</html>
